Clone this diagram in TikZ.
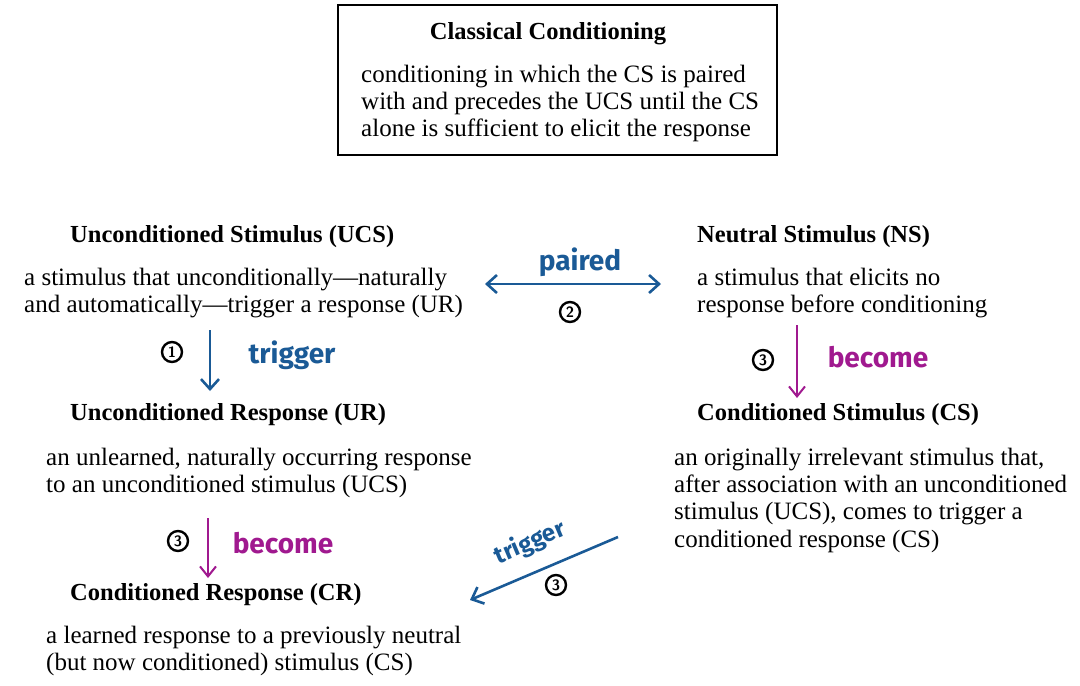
\documentclass[tikz,border=0pt]{standalone}
\usepackage{fontspec}
\setmainfont{Liberation Serif}
\newfontfamily\hand{Fira Sans}
\usetikzlibrary{arrows.meta}
\definecolor{hblue}{HTML}{1A5A96}
\definecolor{hmag}{HTML}{A0198F}
\begin{document}
\begin{tikzpicture}[x=1pt,y=-1pt,
  ttl/.style={anchor=west,inner sep=0,font=\fontsize{24.5}{28}\selectfont\bfseries},
  body/.style={anchor=north west,inner sep=0,align=left,font=\fontsize{25}{27.2}\selectfont},
  hw/.style={inner sep=0,font=\hand\fontsize{28}{30}\selectfont\bfseries},
  num/.style={circle,draw=black,line width=2.4pt,inner sep=0pt,minimum size=20pt,font=\sffamily\bfseries\fontsize{15}{15}\selectfont},
  barr/.style={hblue,line width=2.6pt,-{Straight Barb[length=10pt,width=18pt]}},
  marr/.style={hmag,line width=2pt,-{Straight Barb[length=10pt,width=16pt]}}]
\useasboundingbox (0,0) rectangle (1080,686);
\draw[line width=2.4pt] (338,5) rectangle (777,155);
\node[ttl,anchor=center] (t0) at (548,34) {Classical Conditioning};
\node[body] (b0) at (361,65) {conditioning in which the CS is paired\\with and precedes the UCS until the CS\\alone is sufficient to elicit the response};
\node[ttl] (t1) at (70,237) {Unconditioned Stimulus (UCS)};
\node[body] (b1) at (24,268) {a stimulus that unconditionally—naturally\\and automatically—trigger a response (UR)};
\node[ttl] (t2) at (70,415) {Unconditioned Response (UR)};
\node[body] (b2) at (46,448) {an unlearned, naturally occurring response\\to an unconditioned stimulus (UCS)};
\node[ttl] (t3) at (70,595) {Conditioned Response (CR)};
\node[body] (b3) at (46,626) {a learned response to a previously neutral\\(but now conditioned) stimulus (CS)};
\node[ttl] (t4) at (697,237) {Neutral Stimulus (NS)};
\node[body] (b4) at (697,268) {a stimulus that elicits no\\response before conditioning};
\node[ttl] (t5) at (697,415) {Conditioned Stimulus (CS)};
\node[body] (b5) at (674,448) {an originally irrelevant stimulus that,\\after association with an unconditioned\\stimulus (UCS), comes to trigger a\\conditioned response (CS)};
% arrows
\coordinate (p1) at (485,284); \coordinate (p2) at (661,284);
\draw[barr,{Straight Barb[length=10pt,width=18pt]}-{Straight Barb[length=10pt,width=18pt]}] (p1) -- (p2);
\node[hw,hblue] (lp) at (580,262) {paired};
\node[num] (n2) at (570,312) {2};
\coordinate (a1) at (210,330); \coordinate (a2) at (210,391);
\draw[barr] (a1) -- (a2);
\node[num] (n1) at (172,352) {1};
\node[hw,hblue] (lt1) at (292,355) {trigger};
\coordinate (c1) at (208,518); \coordinate (c2) at (208,578);
\draw[marr] (c1) -- (c2);
\node[num] (n3) at (178,541) {3};
\node[hw,hmag] (lb1) at (283,543) {become};
\coordinate (d1) at (797,325); \coordinate (d2) at (797,398);
\draw[marr] (d1) -- (d2);
\node[num] (n4) at (763,360) {3};
\node[hw,hmag] (lb2) at (878,357) {become};
\coordinate (e1) at (618,537); \coordinate (e2) at (470,600);
\draw[barr] (e1) -- (e2);
\node[hw,hblue,rotate=23,font=\hand\fontsize{24}{26}\selectfont\bfseries] (lt2) at (530,543) {trigger};
\node[num] (n5) at (556,585) {3};
\end{tikzpicture}
\end{document}
